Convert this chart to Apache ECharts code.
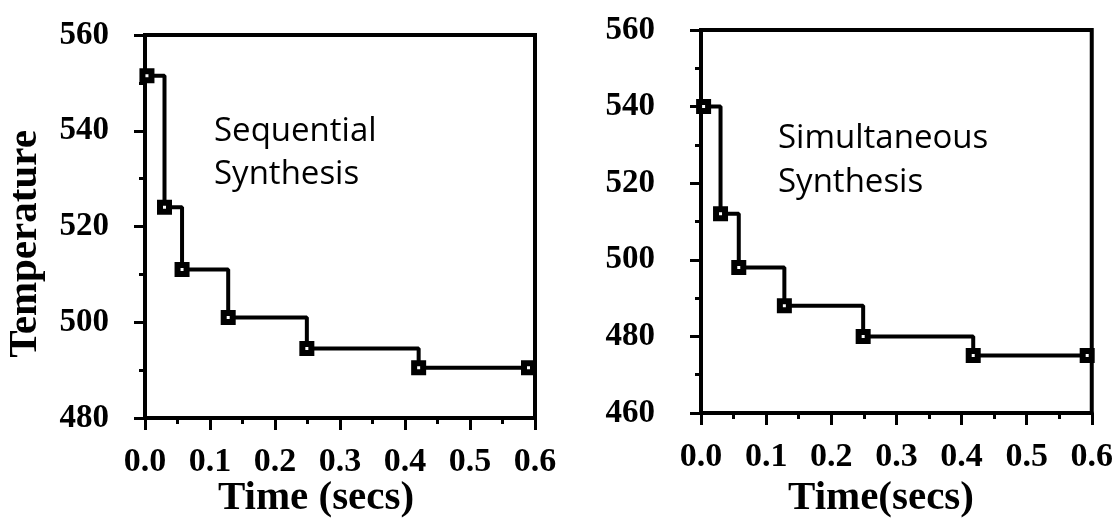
<!DOCTYPE html>
<html>
<head>
<meta charset="utf-8">
<script src="https://cdn.jsdelivr.net/npm/echarts@6/dist/echarts.min.js"></script>
<style>
  html, body { margin: 0; padding: 0; background: #fff; }
  #chart { width: 1116px; height: 518px; }
</style>
</head>
<body>
<div id="chart"></div>
<script>
// Sequential synthesis: temperature profile per time interval
const timeSeq = [0.003, 0.030, 0.057, 0.128, 0.249, 0.421, 0.590];
const tempSeq = [551.5, 524, 511, 501, 494.5, 490.5, 490.5];

// Simultaneous synthesis
const timeSim = [0.004, 0.030, 0.058, 0.128, 0.249, 0.418, 0.593];
const tempSim = [540, 512, 498, 488, 480, 475, 475];

// Axis tick labels
const timeTicks = ['0.0', '0.1', '0.2', '0.3', '0.4', '0.5', '0.6'];
const tempTicksSeq = ['480', '500', '520', '540', '560'];
const tempTicksSim = ['460', '480', '500', '520', '540', '560'];

const serif = 'Liberation Serif';

const pairs = (xs, ys) => xs.map((x, i) => [x, ys[i]]);

function xAxisFor(gridIndex) {
  return {
    type: 'value', gridIndex, min: 0, max: 0.6, interval: 0.1,
    axisLine: { show: true, lineStyle: { color: '#000', width: 4 } },
    axisTick: { show: true, inside: false, length: 12, lineStyle: { color: '#000', width: 3 } },
    minorTick: { show: true, splitNumber: 2, length: 6, lineStyle: { color: '#000', width: 3 } },
    splitLine: { show: false },
    axisLabel: {
      margin: 27, color: '#000', fontFamily: serif, fontWeight: 'bold', fontSize: 34,
      formatter: (v) => timeTicks[Math.round(v * 10)]
    }
  };
}

function yAxisFor(gridIndex, min, ticks, margin) {
  return {
    type: 'value', gridIndex, min, max: 560, interval: 20,
    axisLine: { show: true, lineStyle: { color: '#000', width: 4 } },
    axisTick: { show: true, inside: false, length: 11, lineStyle: { color: '#000', width: 3 } },
    minorTick: { show: true, splitNumber: 2, length: 6, lineStyle: { color: '#000', width: 3 } },
    splitLine: { show: false },
    axisLabel: {
      margin, color: '#000', fontFamily: serif, fontWeight: 'bold', fontSize: 33,
      padding: [0, 0, 10, 0],
      formatter: (v) => ticks[Math.round((v - min) / 20)]
    }
  };
}

function stepSeries(xAxisIndex, yAxisIndex, xs, ys) {
  return {
    type: 'line', xAxisIndex, yAxisIndex, step: 'end',
    data: pairs(xs, ys),
    symbol: 'rect', symbolSize: 9,
    itemStyle: { color: '#fff', borderColor: '#000', borderWidth: 6 },
    lineStyle: { color: '#000', width: 4 },
    clip: false, silent: true, animation: false
  };
}

const chart = echarts.init(document.getElementById('chart'), null, { renderer: 'canvas' });

chart.setOption({
  backgroundColor: '#fff',
  animation: false,
  grid: [
    { left: 145, top: 35, width: 390, height: 383, show: true, borderColor: '#000', borderWidth: 4 },
    { left: 701, top: 30, width: 395, height: 383, show: true, borderColor: '#000', borderWidth: 4 }
  ],
  xAxis: [xAxisFor(0), xAxisFor(1)],
  yAxis: [
    yAxisFor(0, 480, tempTicksSeq, 36),
    yAxisFor(1, 460, tempTicksSim, 46)
  ],
  series: [
    stepSeries(0, 0, timeSeq, tempSeq),
    stepSeries(1, 1, timeSim, tempSim)
  ],
  graphic: [
    {
      type: 'text', x: 214, y: 110,
      style: { text: 'Sequential\nSynthesis', font: '33px "Open Sans"', lineHeight: 43, fill: '#000' }
    },
    {
      type: 'text', x: 778, y: 117,
      style: { text: 'Simultaneous\nSynthesis', font: '33px "Open Sans"', lineHeight: 44, fill: '#000' }
    },
    {
      type: 'text', x: 316, y: 498,
      style: { text: 'Time (secs)', font: 'bold 41px "Liberation Serif"', fill: '#000', align: 'center', verticalAlign: 'middle' }
    },
    {
      type: 'text', x: 881, y: 498,
      style: { text: 'Time(secs)', font: 'bold 41px "Liberation Serif"', fill: '#000', align: 'center', verticalAlign: 'middle' }
    },
    {
      type: 'text', x: 25, y: 244, rotation: Math.PI / 2,
      style: { text: 'Temperature', font: 'bold 41px "Liberation Serif"', fill: '#000', align: 'center', verticalAlign: 'middle' }
    }
  ]
});
</script>
</body>
</html>
